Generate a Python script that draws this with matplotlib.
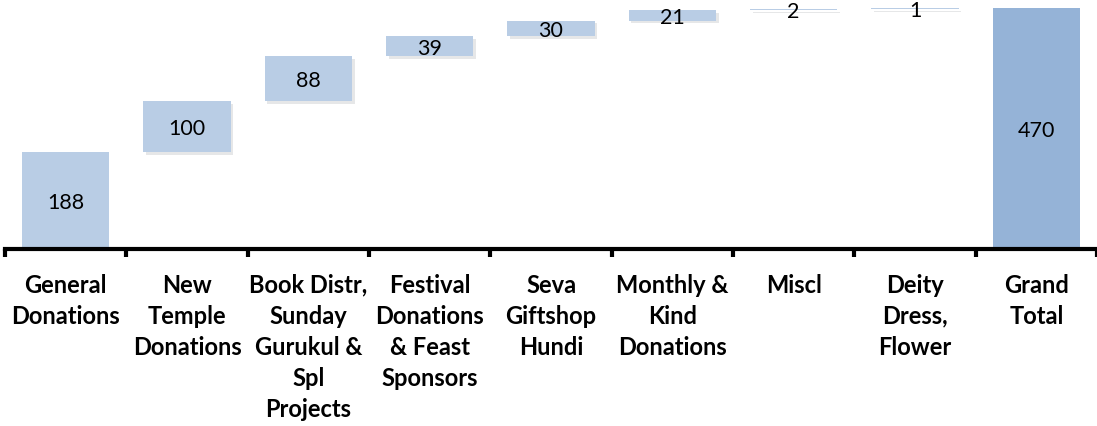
import matplotlib.pyplot as plt
import matplotlib.patheffects as pe
import numpy as np

categories = ["General\nDonations", "New\nTemple\nDonations", "Book Distr,\nSunday\nGurukul &\nSpl\nProjects",
              "Festival\nDonations\n& Feast\nSponsors", "Seva\nGiftshop\nHundi", "Monthly &\nKind\nDonations",
              "Miscl", "Deity\nDress,\nFlower", "Grand\nTotal"]
values = [188, 100, 88, 39, 30, 21, 2, 1]
total = 470

plt.rcParams['font.family'] = ['Lato', 'DejaVu Sans']

fig = plt.figure(figsize=(10.97, 4.27), dpi=100)
ax = fig.add_axes([0.0046, 0.4145, 0.9954, 0.5855])

x = np.arange(len(categories))
bottoms = np.concatenate([[0], np.cumsum(values)[:-1]])
shadow = [pe.SimplePatchShadow(offset=(2, -2), alpha=0.12), pe.Normal()]

for i, (v, b) in enumerate(zip(values, bottoms)):
    bar = ax.bar(x[i], v, bottom=b, width=0.72, color="#b9cde5", linewidth=0)
    if i > 0:
        bar[0].set_path_effects(shadow)
    ax.text(x[i], b + v / 2 - 3, str(v), ha="center", va="center", fontsize=15.5, color="black")

bar = ax.bar(x[-1], total, width=0.72, color="#95b3d7", linewidth=0)
ax.text(x[-1], total / 2 - 3, str(total), ha="center", va="center", fontsize=15.5, color="black")

ax.set_xlim(-0.5, len(categories) - 0.5)
ax.set_ylim(0, 487)
ax.set_yticks([])
for s in ["top", "right", "left"]:
    ax.spines[s].set_visible(False)
ax.spines["bottom"].set_linewidth(3)

ax.set_xticks(np.arange(len(categories) + 1) - 0.5)
ax.set_xticklabels([])
ax.tick_params(axis="x", length=6, width=3, direction="out")
ax.set_xticks(x, minor=True)
ax.set_xticklabels(categories, minor=True, fontsize=17, fontweight="bold", linespacing=1.42)
ax.tick_params(axis="x", which="minor", length=0, pad=17)
for lbl in ax.get_xticklabels(minor=True):
    lbl.set_verticalalignment("top")

fig.savefig("out.png", dpi=100)
